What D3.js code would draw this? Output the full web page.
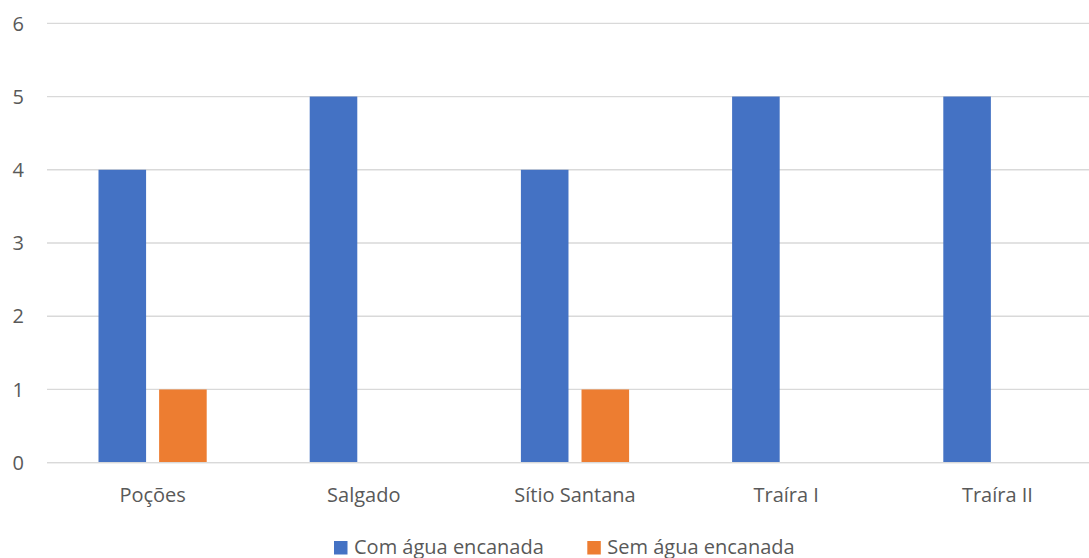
<!DOCTYPE html>
<html>
<head>
<meta charset="utf-8">
<script src="https://cdn.jsdelivr.net/npm/d3@7"></script>
<style>
  body { margin: 0; background: #fff; }
  text { font-family: "Open Sans", sans-serif; fill: #595959; }
</style>
</head>
<body>
<svg id="chart" width="1089" height="558"></svg>
<script>
var categories = ["Poções", "Salgado", "Sítio Santana", "Traíra I", "Traíra II"];
var seriesNames = ["Com água encanada", "Sem água encanada"];
var comAgua = [4, 5, 4, 5, 5];
var semAgua = [1, 0, 1, 0, 0];
var yTicks = [0, 1, 2, 3, 4, 5, 6];

var colors = ["#4472c4", "#ed7d31"];

var svg = d3.select("#chart");

var x0 = d3.scaleBand().domain(categories).range([47, 1103]).padding(0);
var x1 = d3.scaleBand().domain(seriesNames)
    .range([51.5, x0.bandwidth() - 51.5])
    .paddingInner(0.215).paddingOuter(0);
var y = d3.scaleLinear().domain([0, 6]).range([462.7, 23.3]);

// gridlines
svg.append("g").selectAll("line")
    .data(yTicks)
    .enter().append("line")
    .attr("x1", 47).attr("x2", 1103)
    .attr("y1", function(d) { return y(d); })
    .attr("y2", function(d) { return y(d); })
    .attr("stroke", "#d9d9d9")
    .attr("stroke-width", 1.3);

// y labels
svg.append("g").selectAll("text")
    .data(yTicks)
    .enter().append("text")
    .attr("x", 24)
    .attr("y", function(d) { return y(d); })
    .attr("dy", "0.36em")
    .attr("text-anchor", "end")
    .attr("font-size", "20px")
    .text(function(d) { return d; });

var rows = categories.map(function(c, i) {
    return { cat: c, values: [comAgua[i], semAgua[i]] };
});

var groups = svg.append("g").selectAll("g")
    .data(rows)
    .enter().append("g")
    .attr("transform", function(d) { return "translate(" + x0(d.cat) + ",0)"; });

groups.selectAll("rect")
    .data(function(d) {
        return d.values.map(function(v, j) { return { name: seriesNames[j], value: v, idx: j }; });
    })
    .enter().append("rect")
    .filter(function(d) { return d.value > 0; })
    .attr("x", function(d) { return x1(d.name); })
    .attr("width", x1.bandwidth())
    .attr("y", function(d) { return y(d.value); })
    .attr("height", function(d) { return y(0) - y(d.value); })
    .attr("fill", function(d) { return colors[d.idx]; });

// redraw baseline over bars
svg.append("line")
    .attr("x1", 47).attr("x2", 1103)
    .attr("y1", y(0)).attr("y2", y(0))
    .attr("stroke", "#d9d9d9")
    .attr("stroke-width", 1.3);

// category labels
svg.append("g").selectAll("text")
    .data(categories)
    .enter().append("text")
    .attr("x", function(d) { return x0(d) + x0.bandwidth() / 2; })
    .attr("y", 501.5)
    .attr("text-anchor", "middle")
    .attr("font-size", "20px")
    .text(function(d) { return d; });

// legend
var legendX = [334, 587.3];
var legend = svg.append("g").selectAll("g")
    .data(seriesNames)
    .enter().append("g")
    .attr("transform", function(d, i) { return "translate(" + legendX[i] + ",541)"; });

legend.append("rect")
    .attr("width", 13.5).attr("height", 13.5)
    .attr("fill", function(d, i) { return colors[i]; });

legend.append("text")
    .attr("x", 20)
    .attr("y", 13)
    .attr("font-size", "20px")
    .text(function(d) { return d; });
</script>
</body>
</html>
